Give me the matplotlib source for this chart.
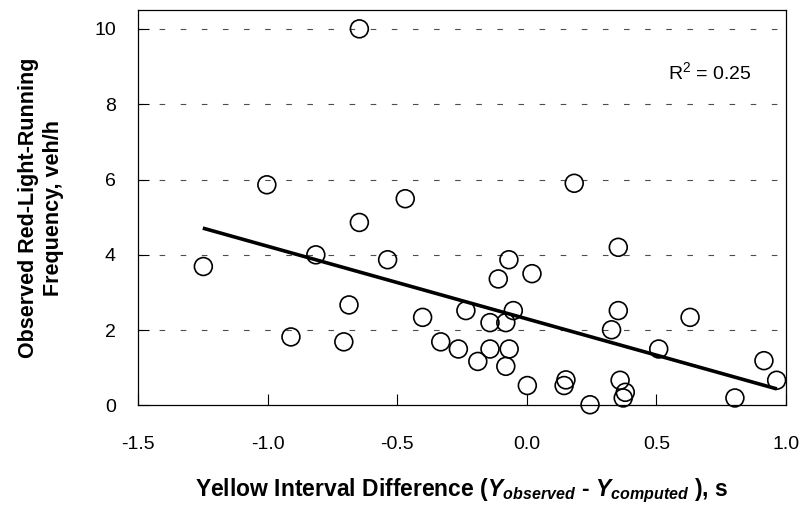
import matplotlib
matplotlib.use('Agg')
import matplotlib.pyplot as plt
from matplotlib.ticker import FormatStrFormatter

plt.rcParams['font.family'] = ['Liberation Sans', 'DejaVu Sans']
plt.rcParams['axes.unicode_minus'] = False
plt.rcParams['mathtext.fontset'] = 'custom'
plt.rcParams['mathtext.rm'] = 'Liberation Sans'
plt.rcParams['mathtext.it'] = 'Liberation Sans:italic'
plt.rcParams['mathtext.bf'] = 'Liberation Sans:bold'
plt.rcParams['mathtext.bfit'] = 'Liberation Sans:bold:italic'

# yellow interval difference (s) vs observed red-light-running frequency (veh/h)
diff = [-0.646, -1.003, 0.183, -0.469, -0.646, 0.353, -0.814, -0.537, -0.069,
        -1.248, 0.020, -0.110, -0.686, -0.235, -0.052, 0.353, -0.402, 0.630,
        -0.142, -0.081, 0.327, -0.910, -0.706, -0.332, -0.264, -0.142, -0.068,
        0.509, -0.189, -0.081, 0.915, 0.964, 0.151, 0.360, 0.002, 0.144,
        0.380, 0.372, 0.803, 0.244]
freq = [10.0, 5.86, 5.90, 5.49, 4.86, 4.20, 4.00, 3.87, 3.87,
        3.69, 3.50, 3.36, 2.67, 2.52, 2.52, 2.52, 2.34, 2.34,
        2.20, 2.20, 2.01, 1.82, 1.69, 1.69, 1.50, 1.50, 1.50,
        1.50, 1.17, 1.04, 1.19, 0.67, 0.68, 0.67, 0.53, 0.53,
        0.35, 0.20, 0.20, 0.02]

# linear trend line end points
trend_x = [-1.25, 0.965]
trend_y = [4.71, 0.44]
r2_text = 'R$^2$ = 0.25'

xticks = [-1.5, -1.0, -0.5, 0.0, 0.5, 1.0]
yticks = [0, 2, 4, 6, 8, 10]

fig = plt.figure(figsize=(8.03, 5.14), dpi=100)
ax = fig.add_axes([0.1719, 0.2111, 0.8069, 0.7694])

ax.set_xlim(-1.5, 1.0)
ax.set_ylim(0, 10.5)

for y in yticks[1:]:
    ax.axhline(y, color='#4d4d4d', lw=0.8, linestyle=(0, (5, 14)), zorder=1)

ax.plot(trend_x, trend_y, color='black', lw=2.6, zorder=2, solid_capstyle='butt')
ax.scatter(diff, freq, s=165, facecolors='none', edgecolors='black',
           linewidths=1.2, zorder=3, clip_on=False)

ax.text(0.545, 8.85, r2_text, fontsize=14, va='center', ha='left')

ax.set_xticks(xticks)
ax.set_yticks(yticks)
ax.xaxis.set_major_formatter(FormatStrFormatter('%.1f'))
ax.tick_params(direction='in', length=8, width=0.8, labelsize=14)
ax.tick_params(axis='x', pad=22)
ax.tick_params(axis='y', pad=16)

for s in ax.spines.values():
    s.set_linewidth(0.9)
    s.set_color('black')

ax.set_xlabel(r'Yellow Interval Difference ($\mathbfit{Y}_{\mathbfit{observed}}$ - '
              r'$\mathbfit{Y}_{\mathbfit{computed}}$ ), s',
              fontsize=16.5, fontweight='bold', labelpad=17)
ax.set_ylabel('Observed Red-Light-Running\nFrequency, veh/h',
              fontsize=15.5, fontweight='bold', labelpad=22)

plt.savefig('out.png', dpi=100)
